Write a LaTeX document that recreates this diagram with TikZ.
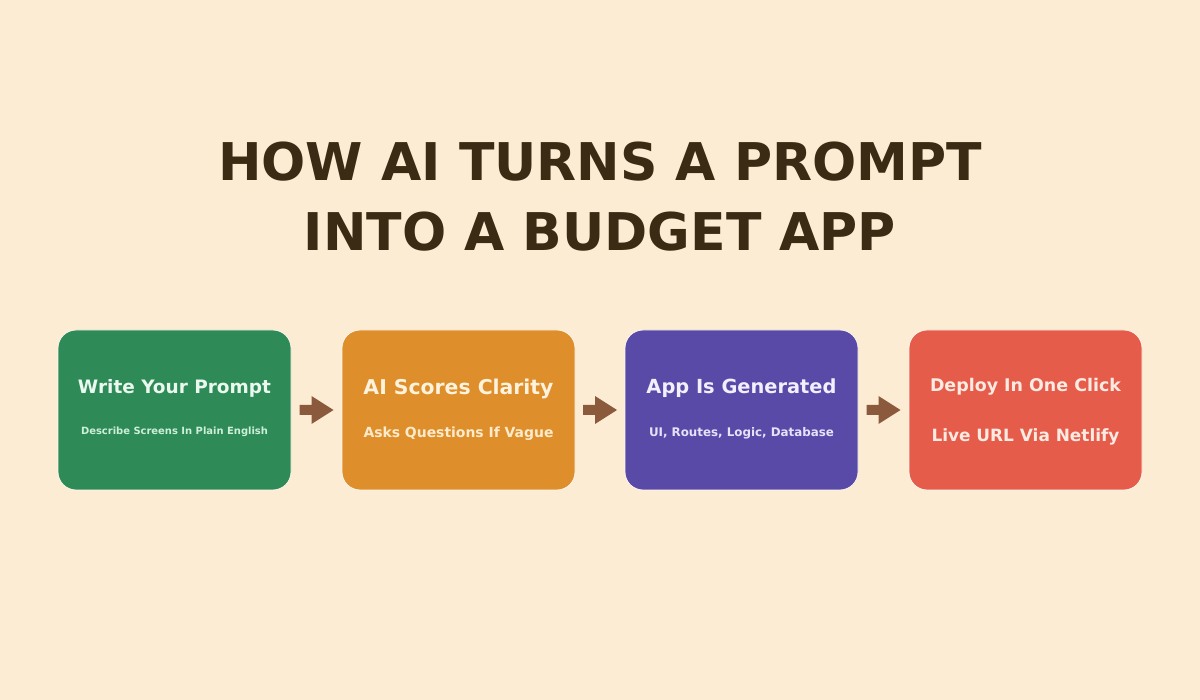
\documentclass[tikz,border=0pt]{standalone}
\usepackage{fontspec}
\setmainfont{DejaVu Sans}
\usepackage{graphicx}
\definecolor{bg}{HTML}{FCECD4}
\definecolor{titlec}{HTML}{3B2A14}
\definecolor{cgreen}{HTML}{2E8B57}
\definecolor{corange}{HTML}{DE8E2A}
\definecolor{cpurple}{HTML}{5A4AA8}
\definecolor{cred}{HTML}{E65C4A}
\definecolor{carrow}{HTML}{8B5A3C}
\definecolor{tgreen}{HTML}{EAF8EF}
\definecolor{sgreen}{HTML}{CDEFD9}
\definecolor{torange}{HTML}{FFF3DE}
\definecolor{sorange}{HTML}{FDEBCB}
\definecolor{tpurple}{HTML}{F2F0FF}
\definecolor{spurple}{HTML}{E6E2FA}
\definecolor{tred}{HTML}{FDEAE2}
\newcommand{\fitw}[2]{\resizebox{#1pt}{!}{#2}}
\begin{document}
\begin{tikzpicture}[x=1pt,y=-1pt,
  stepbox/.style={draw=white!60!bg,line width=0.8pt,rounded corners=18pt,minimum width=233pt,minimum height=160pt,inner sep=0pt},
  boxtitle/.style={inner sep=0pt,font=\bfseries},
  boxsub/.style={inner sep=0pt,font=\bfseries}]
\useasboundingbox (0,0) rectangle (1200,700);
\fill[bg] (0,0) rectangle (1200,700);
\node[text=titlec,font=\bfseries\fontsize{52}{70}\selectfont,align=center] (title) at (600,197) {HOW AI TURNS A PROMPT\\INTO A BUDGET APP};
\node[stepbox,fill=cgreen] (b1) at (174.5,410) {};
\node[stepbox,fill=corange] (b2) at (458.5,410) {};
\node[stepbox,fill=cpurple] (b3) at (741.5,410) {};
\node[stepbox,fill=cred] (b4) at (1025.5,410) {};
\node[boxtitle,text=tgreen] (t1) at ([yshift=22pt]b1.center) {\fitw{193}{Write Your Prompt}};
\node[boxsub,text=sgreen] (s1) at ([yshift=-22pt]b1.center) {\fitw{187}{Describe Screens In Plain English}};
\node[boxtitle,text=torange] (t2) at ([yshift=21pt]b2.center) {\fitw{190}{AI Scores Clarity}};
\node[boxsub,text=sorange] (s2) at ([yshift=-24pt]b2.center) {\fitw{190}{Asks Questions If Vague}};
\node[boxtitle,text=tpurple] (t3) at ([yshift=22pt]b3.center) {\fitw{190}{App Is Generated}};
\node[boxsub,text=spurple] (s3) at ([yshift=-23pt]b3.center) {\fitw{185}{UI, Routes, Logic, Database}};
\node[boxtitle,text=tred] (t4) at ([yshift=23pt]b4.center) {\fitw{191}{Deploy In One Click}};
\node[boxsub,text=tred] (s4) at ([yshift=-27pt]b4.center) {\fitw{188}{Live URL Via Netlify}};
\foreach \a/\b/\n in {b1/b2/1,b2/b3/2,b3/b4/3}{
  \path (\a.east) -- (\b.west) coordinate[pos=0.5] (mid\n);
  \fill[carrow] ([shift={(-17,-5)}]mid\n) -- ([shift={(-5,-5)}]mid\n) -- ([shift={(-5,-14)}]mid\n) -- ([shift={(17,0)}]mid\n) -- ([shift={(-5,14)}]mid\n) -- ([shift={(-5,5)}]mid\n) -- ([shift={(-17,5)}]mid\n) -- cycle;
}
\end{tikzpicture}
\end{document}
